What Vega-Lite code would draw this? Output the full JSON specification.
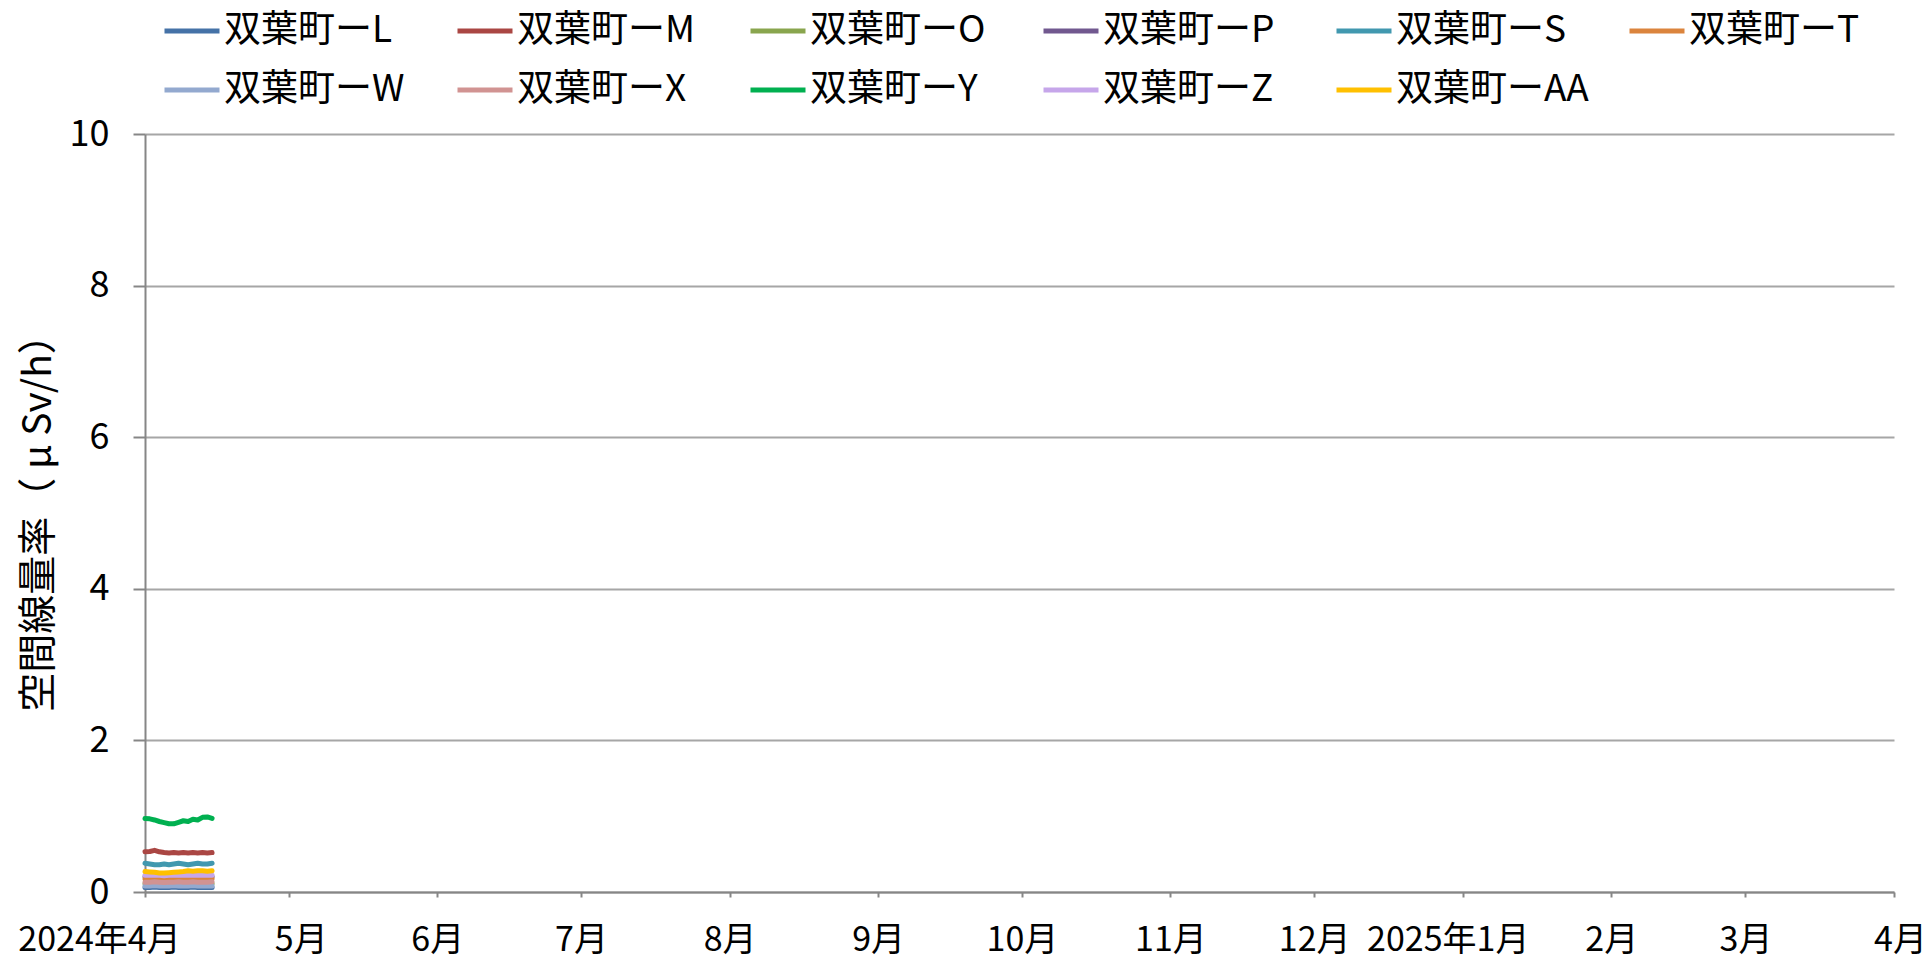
{
 "$schema": "https://vega.github.io/schema/vega-lite/v6.json",
 "width": 1749, "height": 758,
 "autosize": {"type": "none"},
 "padding": {"left": 145, "top": 134, "right": 35, "bottom": 70},
 "background": "white",
 "config": {"font": "Noto Sans CJK JP", "view": {"stroke": null}},
 "datasets": {"d": [
{"date":"2024-04-01","site":"双葉町ーL","value":0.06},{"date":"2024-04-02","site":"双葉町ーL","value":0.06},{"date":"2024-04-03","site":"双葉町ーL","value":0.065},{"date":"2024-04-04","site":"双葉町ーL","value":0.06},{"date":"2024-04-05","site":"双葉町ーL","value":0.06},{"date":"2024-04-06","site":"双葉町ーL","value":0.06},{"date":"2024-04-07","site":"双葉町ーL","value":0.065},{"date":"2024-04-08","site":"双葉町ーL","value":0.06},{"date":"2024-04-09","site":"双葉町ーL","value":0.06},{"date":"2024-04-10","site":"双葉町ーL","value":0.06},{"date":"2024-04-11","site":"双葉町ーL","value":0.065},{"date":"2024-04-12","site":"双葉町ーL","value":0.06},{"date":"2024-04-13","site":"双葉町ーL","value":0.06},{"date":"2024-04-14","site":"双葉町ーL","value":0.06},{"date":"2024-04-15","site":"双葉町ーL","value":0.06},
{"date":"2024-04-01","site":"双葉町ーM","value":0.53},{"date":"2024-04-02","site":"双葉町ーM","value":0.535},{"date":"2024-04-03","site":"双葉町ーM","value":0.55},{"date":"2024-04-04","site":"双葉町ーM","value":0.53},{"date":"2024-04-05","site":"双葉町ーM","value":0.52},{"date":"2024-04-06","site":"双葉町ーM","value":0.515},{"date":"2024-04-07","site":"双葉町ーM","value":0.52},{"date":"2024-04-08","site":"双葉町ーM","value":0.515},{"date":"2024-04-09","site":"双葉町ーM","value":0.52},{"date":"2024-04-10","site":"双葉町ーM","value":0.515},{"date":"2024-04-11","site":"双葉町ーM","value":0.52},{"date":"2024-04-12","site":"双葉町ーM","value":0.515},{"date":"2024-04-13","site":"双葉町ーM","value":0.52},{"date":"2024-04-14","site":"双葉町ーM","value":0.515},{"date":"2024-04-15","site":"双葉町ーM","value":0.52},
{"date":"2024-04-01","site":"双葉町ーO","value":0.11},{"date":"2024-04-02","site":"双葉町ーO","value":0.11},{"date":"2024-04-03","site":"双葉町ーO","value":0.115},{"date":"2024-04-04","site":"双葉町ーO","value":0.11},{"date":"2024-04-05","site":"双葉町ーO","value":0.11},{"date":"2024-04-06","site":"双葉町ーO","value":0.11},{"date":"2024-04-07","site":"双葉町ーO","value":0.115},{"date":"2024-04-08","site":"双葉町ーO","value":0.11},{"date":"2024-04-09","site":"双葉町ーO","value":0.11},{"date":"2024-04-10","site":"双葉町ーO","value":0.11},{"date":"2024-04-11","site":"双葉町ーO","value":0.115},{"date":"2024-04-12","site":"双葉町ーO","value":0.11},{"date":"2024-04-13","site":"双葉町ーO","value":0.11},{"date":"2024-04-14","site":"双葉町ーO","value":0.11},{"date":"2024-04-15","site":"双葉町ーO","value":0.11},
{"date":"2024-04-01","site":"双葉町ーP","value":0.2},{"date":"2024-04-02","site":"双葉町ーP","value":0.2},{"date":"2024-04-03","site":"双葉町ーP","value":0.205},{"date":"2024-04-04","site":"双葉町ーP","value":0.2},{"date":"2024-04-05","site":"双葉町ーP","value":0.195},{"date":"2024-04-06","site":"双葉町ーP","value":0.2},{"date":"2024-04-07","site":"双葉町ーP","value":0.2},{"date":"2024-04-08","site":"双葉町ーP","value":0.205},{"date":"2024-04-09","site":"双葉町ーP","value":0.2},{"date":"2024-04-10","site":"双葉町ーP","value":0.2},{"date":"2024-04-11","site":"双葉町ーP","value":0.2},{"date":"2024-04-12","site":"双葉町ーP","value":0.205},{"date":"2024-04-13","site":"双葉町ーP","value":0.2},{"date":"2024-04-14","site":"双葉町ーP","value":0.2},{"date":"2024-04-15","site":"双葉町ーP","value":0.2},
{"date":"2024-04-01","site":"双葉町ーS","value":0.38},{"date":"2024-04-02","site":"双葉町ーS","value":0.37},{"date":"2024-04-03","site":"双葉町ーS","value":0.36},{"date":"2024-04-04","site":"双葉町ーS","value":0.36},{"date":"2024-04-05","site":"双葉町ーS","value":0.37},{"date":"2024-04-06","site":"双葉町ーS","value":0.36},{"date":"2024-04-07","site":"双葉町ーS","value":0.37},{"date":"2024-04-08","site":"双葉町ーS","value":0.38},{"date":"2024-04-09","site":"双葉町ーS","value":0.37},{"date":"2024-04-10","site":"双葉町ーS","value":0.36},{"date":"2024-04-11","site":"双葉町ーS","value":0.37},{"date":"2024-04-12","site":"双葉町ーS","value":0.38},{"date":"2024-04-13","site":"双葉町ーS","value":0.37},{"date":"2024-04-14","site":"双葉町ーS","value":0.37},{"date":"2024-04-15","site":"双葉町ーS","value":0.38},
{"date":"2024-04-01","site":"双葉町ーT","value":0.17},{"date":"2024-04-02","site":"双葉町ーT","value":0.17},{"date":"2024-04-03","site":"双葉町ーT","value":0.175},{"date":"2024-04-04","site":"双葉町ーT","value":0.17},{"date":"2024-04-05","site":"双葉町ーT","value":0.165},{"date":"2024-04-06","site":"双葉町ーT","value":0.17},{"date":"2024-04-07","site":"双葉町ーT","value":0.17},{"date":"2024-04-08","site":"双葉町ーT","value":0.175},{"date":"2024-04-09","site":"双葉町ーT","value":0.17},{"date":"2024-04-10","site":"双葉町ーT","value":0.17},{"date":"2024-04-11","site":"双葉町ーT","value":0.175},{"date":"2024-04-12","site":"双葉町ーT","value":0.17},{"date":"2024-04-13","site":"双葉町ーT","value":0.17},{"date":"2024-04-14","site":"双葉町ーT","value":0.17},{"date":"2024-04-15","site":"双葉町ーT","value":0.175},
{"date":"2024-04-01","site":"双葉町ーW","value":0.08},{"date":"2024-04-02","site":"双葉町ーW","value":0.08},{"date":"2024-04-03","site":"双葉町ーW","value":0.085},{"date":"2024-04-04","site":"双葉町ーW","value":0.08},{"date":"2024-04-05","site":"双葉町ーW","value":0.08},{"date":"2024-04-06","site":"双葉町ーW","value":0.08},{"date":"2024-04-07","site":"双葉町ーW","value":0.085},{"date":"2024-04-08","site":"双葉町ーW","value":0.08},{"date":"2024-04-09","site":"双葉町ーW","value":0.08},{"date":"2024-04-10","site":"双葉町ーW","value":0.08},{"date":"2024-04-11","site":"双葉町ーW","value":0.085},{"date":"2024-04-12","site":"双葉町ーW","value":0.08},{"date":"2024-04-13","site":"双葉町ーW","value":0.08},{"date":"2024-04-14","site":"双葉町ーW","value":0.08},{"date":"2024-04-15","site":"双葉町ーW","value":0.08},
{"date":"2024-04-01","site":"双葉町ーX","value":0.13},{"date":"2024-04-02","site":"双葉町ーX","value":0.13},{"date":"2024-04-03","site":"双葉町ーX","value":0.135},{"date":"2024-04-04","site":"双葉町ーX","value":0.13},{"date":"2024-04-05","site":"双葉町ーX","value":0.125},{"date":"2024-04-06","site":"双葉町ーX","value":0.13},{"date":"2024-04-07","site":"双葉町ーX","value":0.13},{"date":"2024-04-08","site":"双葉町ーX","value":0.135},{"date":"2024-04-09","site":"双葉町ーX","value":0.13},{"date":"2024-04-10","site":"双葉町ーX","value":0.13},{"date":"2024-04-11","site":"双葉町ーX","value":0.135},{"date":"2024-04-12","site":"双葉町ーX","value":0.13},{"date":"2024-04-13","site":"双葉町ーX","value":0.13},{"date":"2024-04-14","site":"双葉町ーX","value":0.13},{"date":"2024-04-15","site":"双葉町ーX","value":0.135},
{"date":"2024-04-01","site":"双葉町ーY","value":0.97},{"date":"2024-04-02","site":"双葉町ーY","value":0.965},{"date":"2024-04-03","site":"双葉町ーY","value":0.95},{"date":"2024-04-04","site":"双葉町ーY","value":0.93},{"date":"2024-04-05","site":"双葉町ーY","value":0.915},{"date":"2024-04-06","site":"双葉町ーY","value":0.9},{"date":"2024-04-07","site":"双葉町ーY","value":0.9},{"date":"2024-04-08","site":"双葉町ーY","value":0.92},{"date":"2024-04-09","site":"双葉町ーY","value":0.94},{"date":"2024-04-10","site":"双葉町ーY","value":0.93},{"date":"2024-04-11","site":"双葉町ーY","value":0.96},{"date":"2024-04-12","site":"双葉町ーY","value":0.95},{"date":"2024-04-13","site":"双葉町ーY","value":0.985},{"date":"2024-04-14","site":"双葉町ーY","value":0.99},{"date":"2024-04-15","site":"双葉町ーY","value":0.97},
{"date":"2024-04-01","site":"双葉町ーZ","value":0.22},{"date":"2024-04-02","site":"双葉町ーZ","value":0.22},{"date":"2024-04-03","site":"双葉町ーZ","value":0.225},{"date":"2024-04-04","site":"双葉町ーZ","value":0.22},{"date":"2024-04-05","site":"双葉町ーZ","value":0.215},{"date":"2024-04-06","site":"双葉町ーZ","value":0.22},{"date":"2024-04-07","site":"双葉町ーZ","value":0.22},{"date":"2024-04-08","site":"双葉町ーZ","value":0.225},{"date":"2024-04-09","site":"双葉町ーZ","value":0.22},{"date":"2024-04-10","site":"双葉町ーZ","value":0.22},{"date":"2024-04-11","site":"双葉町ーZ","value":0.225},{"date":"2024-04-12","site":"双葉町ーZ","value":0.22},{"date":"2024-04-13","site":"双葉町ーZ","value":0.22},{"date":"2024-04-14","site":"双葉町ーZ","value":0.225},{"date":"2024-04-15","site":"双葉町ーZ","value":0.22},
{"date":"2024-04-01","site":"双葉町ーAA","value":0.27},{"date":"2024-04-02","site":"双葉町ーAA","value":0.265},{"date":"2024-04-03","site":"双葉町ーAA","value":0.26},{"date":"2024-04-04","site":"双葉町ーAA","value":0.25},{"date":"2024-04-05","site":"双葉町ーAA","value":0.25},{"date":"2024-04-06","site":"双葉町ーAA","value":0.255},{"date":"2024-04-07","site":"双葉町ーAA","value":0.26},{"date":"2024-04-08","site":"双葉町ーAA","value":0.265},{"date":"2024-04-09","site":"双葉町ーAA","value":0.27},{"date":"2024-04-10","site":"双葉町ーAA","value":0.28},{"date":"2024-04-11","site":"双葉町ーAA","value":0.275},{"date":"2024-04-12","site":"双葉町ーAA","value":0.28},{"date":"2024-04-13","site":"双葉町ーAA","value":0.28},{"date":"2024-04-14","site":"双葉町ーAA","value":0.275},{"date":"2024-04-15","site":"双葉町ーAA","value":0.28}
 ]},
 "data": {"name": "d"},
 "mark": {"type": "line", "strokeWidth": 5, "strokeCap": "round", "strokeJoin": "round"},
 "encoding": {
  "x": {"field": "date", "type": "temporal",
   "scale": {"type": "utc", "domain": [{"year": 2024, "month": 4, "date": 1, "utc": true}, {"year": 2025, "month": 4, "date": 1, "utc": true}]},
   "axis": {"title": null,
    "values": [{"year":2024,"month":4,"date":1,"utc":true},{"year":2024,"month":5,"date":1,"utc":true},{"year":2024,"month":6,"date":1,"utc":true},{"year":2024,"month":7,"date":1,"utc":true},{"year":2024,"month":8,"date":1,"utc":true},{"year":2024,"month":9,"date":1,"utc":true},{"year":2024,"month":10,"date":1,"utc":true},{"year":2024,"month":11,"date":1,"utc":true},{"year":2024,"month":12,"date":1,"utc":true},{"year":2025,"month":1,"date":1,"utc":true},{"year":2025,"month":2,"date":1,"utc":true},{"year":2025,"month":3,"date":1,"utc":true},{"year":2025,"month":4,"date":1,"utc":true}],
    "labelExpr": "utcmonth(datum.value) == 3 && utcyear(datum.value) == 2024 ? '2024年4月' : (utcmonth(datum.value) == 0 ? utcyear(datum.value) + '年1月' : (utcmonth(datum.value) + 1) + '月')",
    "labelOffset": {"expr": "utcyear(datum.value) == 2024 && utcmonth(datum.value) == 3 ? -46 : (utcmonth(datum.value) == 4 ? 12 : (utcmonth(datum.value) == 0 ? -15 : (utcyear(datum.value) == 2025 && utcmonth(datum.value) == 3 ? 6 : 0)))"},
    "grid": false, "domainColor": "#868686", "domainWidth": 2, "tickColor": "#868686", "tickWidth": 2, "tickSize": 5,
    "labelFontSize": 34, "labelColor": "black", "labelPadding": 26, "labelAngle": 0, "labelOverlap": false, "labelBound": false, "labelFlush": false}},
  "y": {"field": "value", "type": "quantitative", "scale": {"domain": [0, 10]},
   "axis": {"title": "空間線量率（ μ Sv/h）", "values": [0, 2, 4, 6, 8, 10], "grid": true, "gridColor": "#a6a6a6", "gridWidth": 2,
    "domainColor": "#868686", "domainWidth": 2, "tickColor": "#868686", "tickWidth": 2, "tickSize": 12,
    "labelFontSize": 36, "labelPadding": 24, "labelColor": "black",
    "titleFontSize": 39, "titleFontWeight": "normal", "titleColor": "black", "titleX": -107, "titleY": 379, "titleAngle": 270, "titleAlign": "center", "titleBaseline": "middle"}},
  "color": {"field": "site", "type": "nominal",
   "scale": {"domain": ["双葉町ーL","双葉町ーM","双葉町ーO","双葉町ーP","双葉町ーS","双葉町ーT","双葉町ーW","双葉町ーX","双葉町ーY","双葉町ーZ","双葉町ーAA"],
    "range": ["#4572A7","#AA4643","#89A54E","#71588F","#4198AF","#DB843D","#93A9CF","#D19392","#00B050","#C6A6EA","#FFC000"]},
   "legend": {"title": null, "orient": "none", "legendX": 17, "legendY": -133, "direction": "horizontal", "columns": 6, "gridAlign": "all",
    "symbolType": "stroke", "symbolSize": 3025, "symbolStrokeWidth": 5, "labelFontSize": 37, "labelOffset": 2, "labelColor": "black",
    "columnPadding": 30, "rowPadding": 11, "labelLimit": 400, "padding": 0}}
 }
}
